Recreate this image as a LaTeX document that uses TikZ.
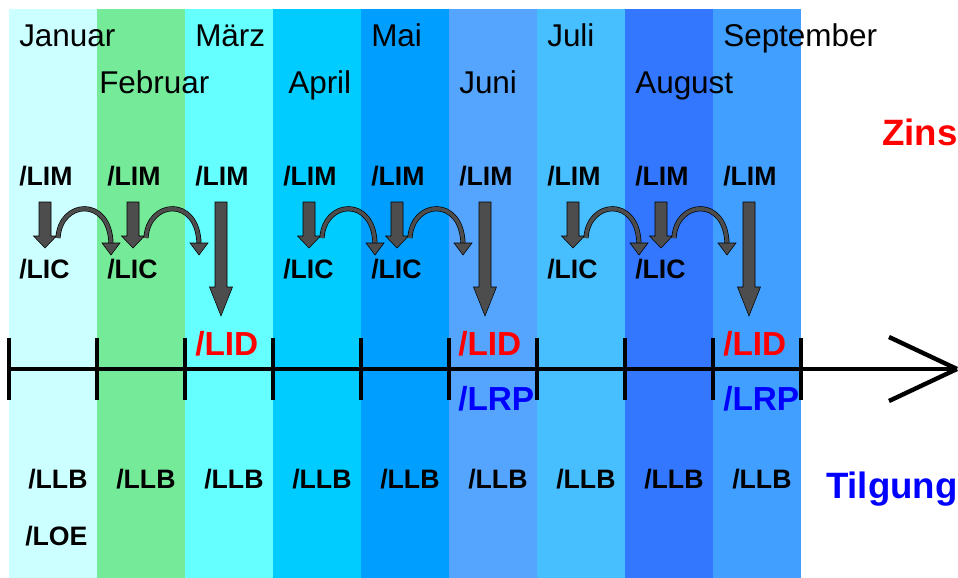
\documentclass[tikz,border=0pt]{standalone}
\usepackage{fontspec}
\setmainfont{Liberation Sans}
\definecolor{cA}{HTML}{CCFFFF}
\definecolor{cB}{HTML}{75EA99}
\definecolor{cC}{HTML}{66FFFF}
\definecolor{cD}{HTML}{00CCFF}
\definecolor{cE}{HTML}{009EFF}
\definecolor{cF}{HTML}{55A5FF}
\definecolor{cG}{HTML}{47BFFF}
\definecolor{cH}{HTML}{3377FF}
\definecolor{cI}{HTML}{419FFF}
\definecolor{agray}{HTML}{4D4D4D}
\definecolor{zred}{HTML}{FF0000}
\definecolor{tblue}{HTML}{0000FF}
\newcommand\myblk[4]{%
  \filldraw[blk] ({#1-6},#2) -- ({#1+6},#2) -- ({#1+6},#3) -- ({#1+11.5},#3) -- (#1,#4) -- ({#1-11.5},#3) -- ({#1-6},#3) -- cycle;}
\newcommand\mycurv[1]{%
  \draw[curv] ({#1+49},238) .. controls ({#1+51},200) and ({#1+101},196) .. ({#1+102},244);
  \filldraw[blk] ({#1+93},243) -- ({#1+111},243) -- ({#1+102},255) -- cycle;}
\begin{document}
\begin{tikzpicture}[x=0.75pt,y=-0.75pt,
  month/.style={anchor=base west,inner sep=0,font=\fontsize{23.6}{23.6}\selectfont},
  lab/.style={anchor=base west,inner sep=0,font=\fontsize{20}{20}\selectfont\bfseries},
  big/.style={anchor=base west,inner sep=0,font=\fontsize{25}{25}\selectfont\bfseries},
  side/.style={anchor=base east,inner sep=0,font=\fontsize{27.5}{27.5}\selectfont\bfseries},
  blk/.style={fill=agray,draw=black,line width=0.4pt},
  curv/.style={draw=black,line width=0.5pt,double=agray,double distance=2.8pt},
  axis/.style={line width=3.3pt}]
\useasboundingbox (0,0) rectangle (958,578);
\fill[white] (0,0) rectangle (958,578);
% columns
\foreach \c [count=\i from 0] in {cA,cB,cC,cD,cE,cF,cG,cH,cI}
  \fill[\c] ({9+88*\i},9) rectangle ({97+88*\i},578);
% month labels
\node[month] (jan) at (19,46) {Januar};
\node[month] (feb) at (99,93) {Februar};
\node[month] (mar) at (195,46) {März};
\node[month] (apr) at (288,93) {April};
\node[month] (mai) at (371,46) {Mai};
\node[month] (jun) at (459,93) {Juni};
\node[month] (jul) at (547,46) {Juli};
\node[month] (aug) at (635,93) {August};
\node[month] (sep) at (723,46) {September};
% LIM labels
\foreach \i in {0,...,8}
  \node[lab] (lim\i) at ({19+88*\i},185) {/LIM};
% LIC labels
\foreach \i in {0,1,3,4,6,7}
  \node[lab] (lic\i) at ({19+88*\i},278) {/LIC};
% arrows per quarter
\foreach \q in {0,1,2}{
  \pgfmathsetmacro\xa{9+264*\q}
  \myblk{\xa+36}{202}{236}{248}
  \myblk{\xa+124}{202}{236}{248}
  \myblk{\xa+212}{202}{287}{316}
  \mycurv{\xa}
  \mycurv{\xa+88}
}
% axis
\coordinate (axL) at (9,369);
\coordinate (axR) at (957,369);
\coordinate (tipU) at (889,337);
\coordinate (tipD) at (889,401);
\draw[axis] (axL) -- (axR);
\foreach \i in {0,...,9}
  \draw[axis] ({9+88*\i},338) -- ({9+88*\i},400);
\draw[axis] (tipU) -- (axR);
\draw[axis] (tipD) -- (axR);
% LID / LRP
\node[big,text=zred] (lid1) at (195,355) {/LID};
\node[big,text=zred] (lid2) at (458,355) {/LID};
\node[big,text=zred] (lid3) at (723,355) {/LID};
\node[big,text=tblue] (lrp1) at (458,410) {/LRP};
\node[big,text=tblue] (lrp2) at (723,410) {/LRP};
% LLB
\foreach \i in {0,...,8}
  \node[lab] (llb\i) at ({28+88*\i},488) {/LLB};
\node[lab] (loe) at (25,545) {/LOE};
% side labels
\node[side,text=zred] (zins) at (958,145) {Zins};
\node[side,text=tblue] (tilg) at (958,498) {Tilgung};
\end{tikzpicture}
\end{document}
